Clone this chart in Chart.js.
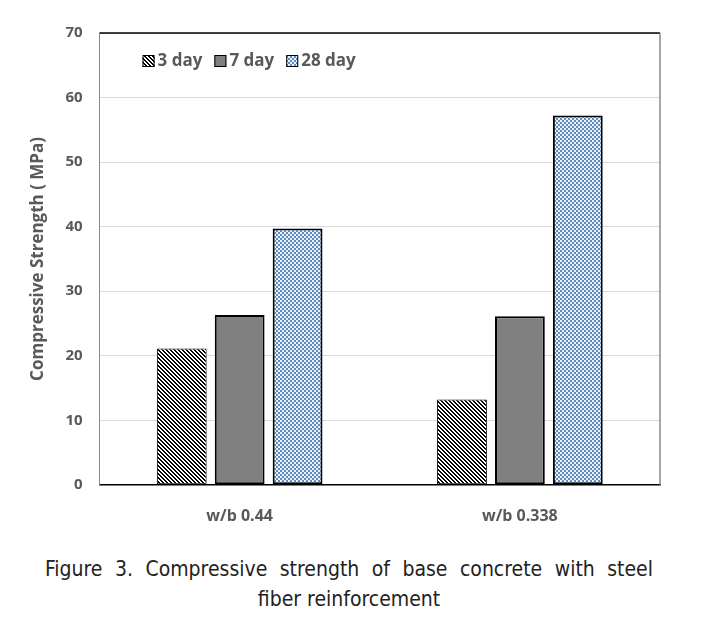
<!doctype html>
<html>
<head>
    <title>Compressive strength</title>
    <script src="https://cdn.jsdelivr.net/npm/chart.js@4/dist/chart.umd.min.js"></script>
    <style>
        body { margin:0; background:#fff; }
        #wrap { position:relative; width:706px; height:548px; }
        #caption { font-family:"Liberation Sans Narrow","DejaVu Sans Condensed",sans-serif;
                   font-size:21px; color:#222; width:608px; margin-left:45px; margin-top:6px;
                   line-height:30px; text-align:center; }
        #caption .l1 { text-align:justify; text-align-last:justify; }
    </style>
</head>
<body>
    <div id="wrap"><canvas id="canvas" width="706" height="548"></canvas></div>
    <div id="caption"><div class="l1">Figure 3. Compressive strength of base concrete with steel</div>fiber reinforcement</div>
    <script>
        var categories = ['w/b 0.44', 'w/b 0.338'];
        var day3 = [21.1, 13.2];
        var day7 = [26.3, 26.1];
        var day28 = [39.7, 57.2];
        var yTicks = [0, 10, 20, 30, 40, 50, 60, 70];

        // small tiled fills, like the excel hatch patterns
        function makePattern(size, paint) {
            var c = document.createElement('canvas');
            c.width = size; c.height = size;
            var g = c.getContext('2d');
            var img = g.createImageData(size, size);
            for (var y = 0; y < size; y++) {
                for (var x = 0; x < size; x++) {
                    var col = paint(x, y);
                    var i = (y * size + x) * 4;
                    img.data[i] = col[0]; img.data[i+1] = col[1]; img.data[i+2] = col[2]; img.data[i+3] = 255;
                }
            }
            g.putImageData(img, 0, 0);
            return document.getElementById('canvas').getContext('2d').createPattern(c, 'repeat');
        }
        var stripes = makePattern(4, function(x, y) {
            return ((x - y + 8) % 4) < 2 ? [0,0,0] : [255,255,255];
        });
        var checker = makePattern(4, function(x, y) {
            return ((Math.floor(x/2) + Math.floor(y/2)) % 2) ? [95,140,190] : [235,242,250];
        });

        var gray = '#595959';

        // plot frame (top + right) and the legend sitting inside the plot
        var frame = {
            id: 'frame',
            afterDraw: function(chart) {
                var a = chart.chartArea, ctx = chart.ctx;
                ctx.save();
                ctx.lineWidth = 1.5;
                ctx.strokeStyle = '#000';
                ctx.beginPath(); ctx.moveTo(a.left, a.top); ctx.lineTo(a.right, a.top); ctx.stroke();
                ctx.strokeStyle = '#888';
                ctx.beginPath(); ctx.moveTo(a.right, a.top); ctx.lineTo(a.right, a.bottom); ctx.stroke();

                var x = a.left + 43, y = a.top + 28;
                ctx.font = 'bold 17px "Open Sans"';
                ctx.textBaseline = 'middle';
                chart.data.datasets.forEach(function(ds) {
                    ctx.fillStyle = ds.backgroundColor;
                    ctx.fillRect(x, y - 6, 12, 12);
                    ctx.lineWidth = 1;
                    ctx.strokeStyle = '#000';
                    ctx.strokeRect(x + 0.5, y - 5.5, 11, 11);
                    ctx.fillStyle = gray;
                    ctx.fillText(ds.label, x + 15, y);
                    x += 15 + ctx.measureText(ds.label).width + 12;
                });
                ctx.restore();
            }
        };

        var config = {
            type: 'bar',
            data: {
                labels: categories,
                datasets: [
                    { label: '3 day', data: day3, backgroundColor: stripes, borderColor: '#000', borderWidth: 1 },
                    { label: '7 day', data: day7, backgroundColor: '#808080', borderColor: '#000', borderWidth: 2 },
                    { label: '28 day', data: day28, backgroundColor: checker, borderColor: '#000', borderWidth: 2 }
                ]
            },
            options: {
                responsive: false,
                animation: false,
                layout: { padding: { left: 18, right: 46, top: 33, bottom: 8 } },
                datasets: { bar: { categoryPercentage: 0.62, barPercentage: 0.86, borderSkipped: false } },
                plugins: {
                    title: { display: false },
                    tooltip: { enabled: false },
                    legend: { display: false }
                },
                scales: {
                    x: {
                        grid: { display: false },
                        border: { color: '#000', width: 1.5 },
                        ticks: { color: gray, font: { family: 'Open Sans', size: 16, weight: 'bold' }, padding: 14 }
                    },
                    y: {
                        min: 0, max: 70,
                        afterBuildTicks: function(s) { s.ticks = yTicks.map(function(v) { return { value: v }; }); },
                        grid: { color: '#d9d9d9', drawTicks: false },
                        border: { color: '#888', width: 1 },
                        ticks: { color: gray, font: { family: 'Open Sans', size: 15, weight: 'bold' }, padding: 17 },
                        title: { display: true, text: 'Compressive Strength ( MPa)', color: gray,
                                 font: { family: 'Open Sans', size: 17, weight: 'bold' }, padding: { top: 10, bottom: 0 } }
                    }
                }
            },
            plugins: [frame]
        };

        window.onload = function() {
            var ctx = document.getElementById('canvas').getContext('2d');
            window.myBar = new Chart(ctx, config);
        };
    </script>
</body>
</html>
